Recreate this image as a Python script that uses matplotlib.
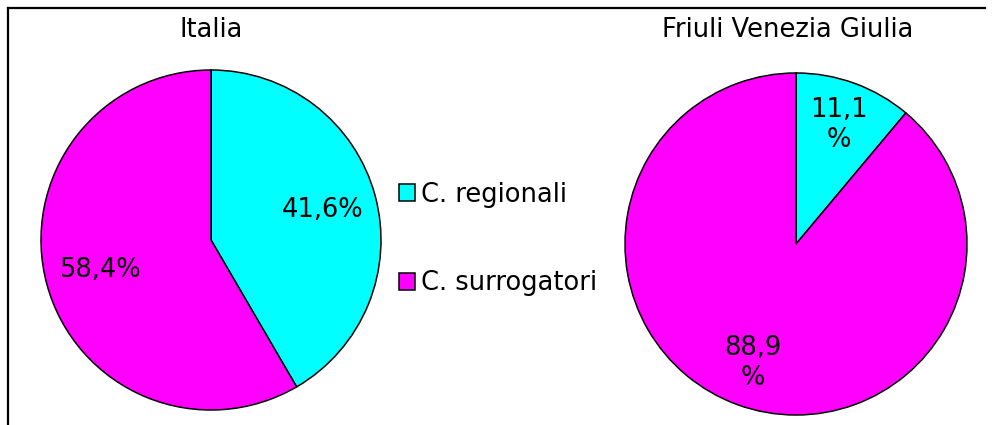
import matplotlib.pyplot as plt
from matplotlib.patches import Patch
from matplotlib.lines import Line2D

# Data
categories = ['C. regionali', 'C. surrogatori']
colors = ['#00FFFF', '#FF00FF']
italia = [41.6, 58.4]
fvg = [11.1, 88.9]

W, H = 994, 425
fig = plt.figure(figsize=(W / 100, H / 100), dpi=100)
FS = 18.5


def fmt(p, wrap=False):
    s = f"{p:.1f}".replace('.', ',')
    return s + ('\n%' if wrap else '%')


def pie_axes(cx, cy, r):
    # cx, cy, r in pixels (top-left origin)
    return fig.add_axes([(cx - r) / W, 1 - (cy + r) / H, 2 * r / W, 2 * r / H])


wedge_style = dict(edgecolor='black', linewidth=1.1)

# Italia
ax1 = pie_axes(211, 240, 170)
ax1.pie(italia, colors=colors, startangle=90, counterclock=False,
        wedgeprops=wedge_style, pctdistance=0.68,
        autopct=lambda p: fmt(p), textprops=dict(fontsize=FS))
ax1.set_xlim(-1, 1)
ax1.set_ylim(-1, 1)
ax1.set_aspect('equal')
fig.text(211 / W, 1 - 30 / H, 'Italia', ha='center', va='center', fontsize=FS)

# Friuli Venezia Giulia
ax2 = pie_axes(796, 244, 171)
ax2.pie(fvg, colors=colors, startangle=90, counterclock=False,
        wedgeprops=wedge_style, pctdistance=0.74,
        autopct=lambda p: fmt(p, wrap=True), textprops=dict(fontsize=FS))
ax2.set_xlim(-1, 1)
ax2.set_ylim(-1, 1)
ax2.set_aspect('equal')
fig.text(788 / W, 1 - 30 / H, 'Friuli Venezia Giulia', ha='center', va='center', fontsize=FS)

# Legend
handles = [Patch(facecolor=c, edgecolor='black', linewidth=1.1) for c in colors]
fig.legend(handles, categories, loc='center left', bbox_to_anchor=(376 / W, 1 - 239 / H),
           frameon=False, fontsize=FS, handlelength=0.6, handleheight=0.6,
           handletextpad=0.25, labelspacing=2.45)

# Outer frame (partly cropped)
fig.add_artist(Line2D([8 / W, 985 / W], [1 - 8 / H, 1 - 8 / H], color='black', linewidth=1.6))
fig.add_artist(Line2D([8 / W, 8 / W], [1 - 8 / H, 0], color='black', linewidth=1.6))

fig.savefig('out.png', dpi=100)
